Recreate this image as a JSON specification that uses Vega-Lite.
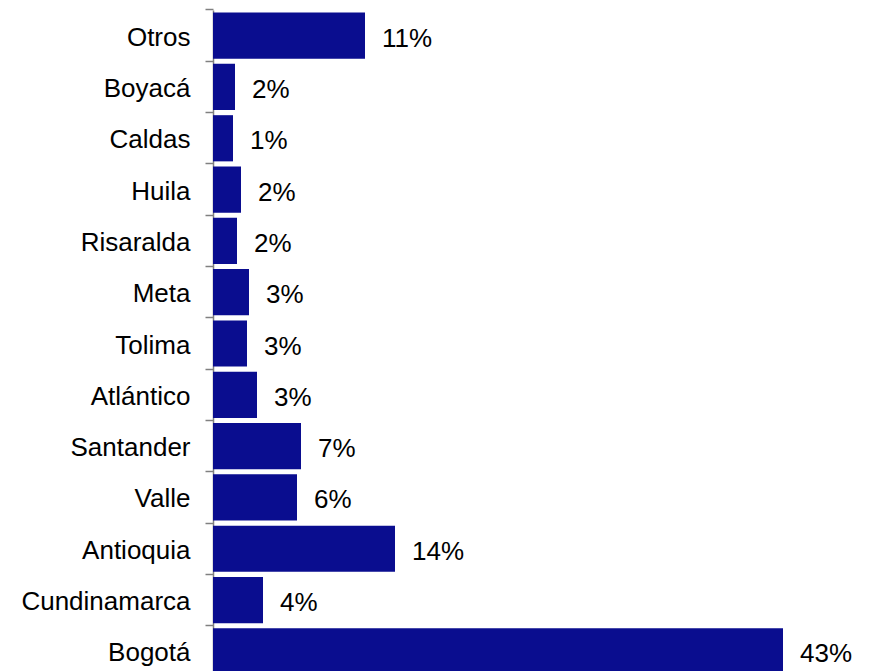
{
  "$schema": "https://vega.github.io/schema/vega-lite/v6.json",
  "width": 640,
  "height": 667,
  "autosize": {"type": "none"},
  "padding": {"left": 213, "top": 10, "right": 0, "bottom": 0},
  "background": "white",
  "config": {"view": {"stroke": null}, "font": "Liberation Sans"},
  "data": {
    "values": [
      {"region": "Otros", "value": 11.4, "label": "11%"},
      {"region": "Boyacá", "value": 1.65, "label": "2%"},
      {"region": "Caldas", "value": 1.5, "label": "1%"},
      {"region": "Huila", "value": 2.1, "label": "2%"},
      {"region": "Risaralda", "value": 1.8, "label": "2%"},
      {"region": "Meta", "value": 2.7, "label": "3%"},
      {"region": "Tolima", "value": 2.55, "label": "3%"},
      {"region": "Atlántico", "value": 3.3, "label": "3%"},
      {"region": "Santander", "value": 6.6, "label": "7%"},
      {"region": "Valle", "value": 6.3, "label": "6%"},
      {"region": "Antioquia", "value": 13.65, "label": "14%"},
      {"region": "Cundinamarca", "value": 3.75, "label": "4%"},
      {"region": "Bogotá", "value": 42.75, "label": "43%"}
    ]
  },
  "encoding": {
    "y": {
      "field": "region",
      "type": "nominal",
      "sort": null,
      "scale": {"paddingInner": 0.1, "paddingOuter": 0.05},
      "axis": {
        "title": null,
        "bandPosition": -0.056,
        "domainColor": "#808080",
        "domainWidth": 1.5,
        "tickColor": "#808080",
        "tickWidth": 1.5,
        "tickSize": 8,
        "labelPadding": 15,
        "labelOffset": 2,
        "labelFontSize": 26,
        "labelColor": "black",
        "labelFont": "Liberation Sans"
      }
    },
    "x": {
      "field": "value",
      "type": "quantitative",
      "scale": {"domain": [0, 48]},
      "axis": null
    }
  },
  "layer": [
    {"mark": {"type": "bar", "color": "#0a0d8f"}},
    {
      "mark": {"type": "text", "align": "left", "baseline": "middle", "dx": 17, "dy": 3, "fontSize": 26, "color": "black", "font": "Liberation Sans"},
      "encoding": {"text": {"field": "label"}}
    }
  ]
}
